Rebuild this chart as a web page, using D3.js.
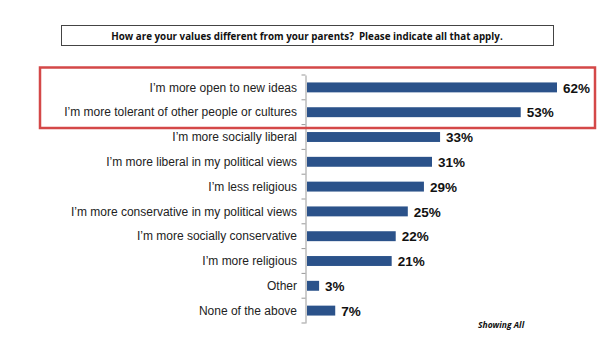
<!DOCTYPE html>
<html><head><meta charset="utf-8">
<script src="https://cdn.jsdelivr.net/npm/d3@7"></script>
<style>body{margin:0;background:#fff}svg{display:block}</style>
</head><body>
<script>
const categories = [
  "I’m more open to new ideas",
  "I’m more tolerant of other people or cultures",
  "I’m more socially liberal",
  "I’m more liberal in my political views",
  "I’m less religious",
  "I’m more conservative in my political views",
  "I’m more socially conservative",
  "I’m more religious",
  "Other",
  "None of the above"
];
const values = [62, 53, 33, 31, 29, 25, 22, 21, 3, 7];
const title = "How are your values different from your parents?  Please indicate all that apply.";
const footnote = "Showing All";

const W = 615, H = 343;
const svg = d3.select("body").append("svg").attr("width", W).attr("height", H);

const x = d3.scaleLinear().domain([0, 62]).range([307, 557]);
const y = d3.scaleBand().domain(categories).range([75, 323]).paddingInner(0.6).paddingOuter(0.3);

// title box
svg.append("rect").attr("x", 61.5).attr("y", 25.5).attr("width", 492).attr("height", 20)
  .attr("fill", "#fff").attr("stroke", "#444").attr("stroke-width", 1);
const t = svg.append("text").attr("x", 307).attr("y", 39.5).attr("text-anchor", "middle")
  .attr("font-family", "Open Sans, sans-serif").attr("font-weight", "bold").attr("font-size", 10)
  .attr("fill", "#111").style("white-space", "pre").text(title);
const tl = t.node().getComputedTextLength();
t.attr("font-size", 10 * 392 / tl);

// bars
svg.append("g").selectAll("rect").data(categories).join("rect")
  .attr("x", x(0)).attr("y", d => y(d))
  .attr("width", (d, i) => x(values[i]) - x(0))
  .attr("height", y.bandwidth())
  .attr("fill", "#2b528a");

// axis
const axis = d3.axisLeft(y).tickSize(0).tickFormat("");
const ag = svg.append("g").attr("transform", "translate(305.5,0)").call(axis);
ag.select(".domain").attr("stroke", "#999");
const bounds = d3.range(categories.length + 1).map(i => y.range()[0] + i * (y.range()[1] - y.range()[0]) / categories.length);
ag.selectAll(".sep").data(bounds).join("line").attr("class", "sep")
  .attr("x1", -4).attr("x2", 0).attr("y1", d => d).attr("y2", d => d).attr("stroke", "#999");

// labels
svg.append("g").selectAll("text").data(categories).join("text")
  .attr("x", 297).attr("y", d => y(d) + y.bandwidth() / 2).attr("dy", "0.35em")
  .attr("text-anchor", "end").attr("font-family", "Liberation Sans, Arial, sans-serif")
  .attr("font-size", 12).attr("fill", "#222").text(d => d);

// values
svg.append("g").selectAll("text").data(categories).join("text")
  .attr("x", (d, i) => x(values[i]) + 6).attr("y", d => y(d) + y.bandwidth() / 2).attr("dy", "0.38em")
  .attr("font-family", "Liberation Sans, Arial, sans-serif").attr("font-weight", "bold")
  .attr("font-size", 13.5).attr("fill", "#111").text((d, i) => values[i] + "%");

// highlight box
svg.append("rect").attr("x", 40).attr("y", 67.5).attr("width", 555).attr("height", 60.5)
  .attr("fill", "none").attr("stroke", "#d44848").attr("stroke-width", 2.5);

// footnote
svg.append("text").attr("x", 478).attr("y", 328).attr("font-family", "Open Sans, sans-serif")
  .attr("font-weight", "bold").attr("font-style", "italic").attr("font-size", 8.5)
  .attr("fill", "#111").text(footnote);
</script>
</body></html>
